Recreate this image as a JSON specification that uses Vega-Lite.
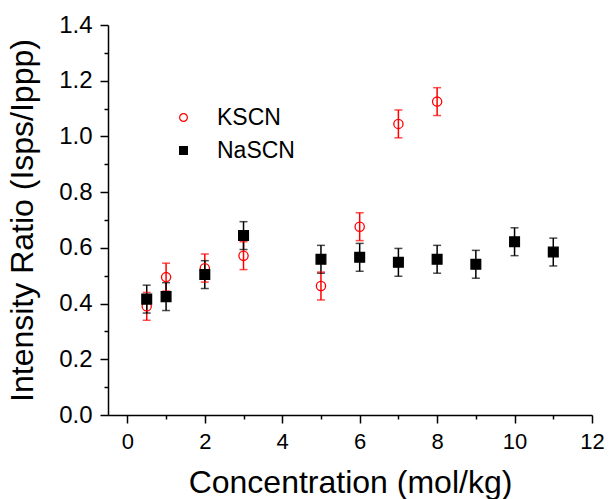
{
  "$schema": "https://vega.github.io/schema/vega-lite/v6.json",
  "autosize": "none",
  "width": 484,
  "height": 390,
  "padding": {"left": 108, "top": 25, "right": 17, "bottom": 84},
  "background": "white",
  "config": {
    "view": {"stroke": null},
    "font": "Liberation Sans",
    "axis": {
      "grid": false,
      "domainColor": "black",
      "domainWidth": 1.5,
      "tickColor": "black",
      "tickWidth": 1.5,
      "labelColor": "black",
      "titleColor": "black",
      "labelFont": "Liberation Sans",
      "titleFont": "Liberation Sans",
      "labelFontSize": 22,
      "titleFontSize": 32,
      "titleFontWeight": "normal"
    },
    "legend": {
      "labelFont": "Liberation Sans",
      "labelFontSize": 23,
      "labelColor": "black"
    }
  },
  "data": {
    "values": [
      {"conc": 0.5, "ratio": 0.39, "lo": 0.34, "hi": 0.44, "series": "KSCN"},
      {"conc": 1, "ratio": 0.495, "lo": 0.445, "hi": 0.545, "series": "KSCN"},
      {"conc": 2, "ratio": 0.527, "lo": 0.477, "hi": 0.578, "series": "KSCN"},
      {"conc": 3, "ratio": 0.572, "lo": 0.522, "hi": 0.622, "series": "KSCN"},
      {"conc": 5, "ratio": 0.463, "lo": 0.413, "hi": 0.513, "series": "KSCN"},
      {"conc": 6, "ratio": 0.676, "lo": 0.626, "hi": 0.726, "series": "KSCN"},
      {"conc": 7, "ratio": 1.045, "lo": 0.995, "hi": 1.095, "series": "KSCN"},
      {"conc": 8, "ratio": 1.125, "lo": 1.075, "hi": 1.175, "series": "KSCN"},
      {"conc": 0.5, "ratio": 0.416, "lo": 0.366, "hi": 0.466, "series": "NaSCN"},
      {"conc": 1, "ratio": 0.425, "lo": 0.375, "hi": 0.475, "series": "NaSCN"},
      {"conc": 2, "ratio": 0.504, "lo": 0.454, "hi": 0.554, "series": "NaSCN"},
      {"conc": 3, "ratio": 0.644, "lo": 0.594, "hi": 0.694, "series": "NaSCN"},
      {"conc": 5, "ratio": 0.559, "lo": 0.509, "hi": 0.609, "series": "NaSCN"},
      {"conc": 6, "ratio": 0.566, "lo": 0.516, "hi": 0.616, "series": "NaSCN"},
      {"conc": 7, "ratio": 0.548, "lo": 0.498, "hi": 0.598, "series": "NaSCN"},
      {"conc": 8, "ratio": 0.559, "lo": 0.509, "hi": 0.609, "series": "NaSCN"},
      {"conc": 9, "ratio": 0.541, "lo": 0.491, "hi": 0.591, "series": "NaSCN"},
      {"conc": 10, "ratio": 0.622, "lo": 0.572, "hi": 0.672, "series": "NaSCN"},
      {"conc": 11, "ratio": 0.585, "lo": 0.535, "hi": 0.635, "series": "NaSCN"}
    ]
  },
  "encoding": {
    "x": {
      "field": "conc",
      "type": "quantitative",
      "scale": {"domain": [-0.5, 12], "nice": false, "zero": false},
      "axis": {
        "title": "Concentration (mol/kg)",
        "values": [0, 1, 2, 3, 4, 5, 6, 7, 8, 9, 10, 11, 12],
        "labelExpr": "datum.value % 2 == 0 ? datum.label : ''",
        "tickSize": {"condition": {"test": "datum.value % 2 == 0", "value": 8}, "value": 4},
        "labelFontSize": 22,
        "labelPadding": 8,
        "titlePadding": 15,
        "labelFlush": false
      }
    },
    "y": {
      "field": "lo",
      "type": "quantitative",
      "scale": {"domain": [0, 1.4], "nice": false},
      "axis": {
        "title": "Intensity Ratio (Isps/Ippp)",
        "values": [0, 0.1, 0.2, 0.3, 0.4, 0.5, 0.6, 0.7, 0.8, 0.9, 1.0, 1.1, 1.2, 1.3, 1.4],
        "labelExpr": "round(datum.value * 10) % 2 == 0 ? format(datum.value, '.1f') : ''",
        "tickSize": {"condition": {"test": "round(datum.value * 10) % 2 == 0", "value": 8}, "value": 4},
        "labelFontSize": 24,
        "labelPadding": 8,
        "titlePadding": 19,
        "labelFlush": false
      }
    }
  },
  "layer": [
    {
      "mark": {"type": "rule", "strokeWidth": 1.5},
      "encoding": {
        "y2": {"field": "hi"},
        "color": {"condition": {"test": "datum.series == 'KSCN'", "value": "#ff0000"}, "value": "#000000"}
      }
    },
    {
      "mark": {"type": "tick", "orient": "horizontal", "size": 8, "thickness": 1.5},
      "encoding": {
        "color": {"condition": {"test": "datum.series == 'KSCN'", "value": "#ff0000"}, "value": "#000000"}
      }
    },
    {
      "mark": {"type": "tick", "orient": "horizontal", "size": 8, "thickness": 1.5},
      "encoding": {
        "y": {"field": "hi", "type": "quantitative"},
        "color": {"condition": {"test": "datum.series == 'KSCN'", "value": "#ff0000"}, "value": "#000000"}
      }
    },
    {
      "mark": {"type": "point", "opacity": 1, "strokeWidth": 1.3},
      "encoding": {
        "y": {"field": "ratio", "type": "quantitative"},
        "color": {
          "field": "series",
          "type": "nominal",
          "scale": {"domain": ["KSCN", "NaSCN"], "range": ["#ff0000", "#000000"]},
          "legend": {
            "title": null,
            "orient": "none",
            "legendX": 64,
            "legendY": 81,
            "padding": 0,
            "labelOffset": 22,
            "rowPadding": 9,
            "symbolSize": 60,
            "symbolStrokeWidth": 1.2
          }
        },
        "shape": {
          "field": "series",
          "type": "nominal",
          "scale": {"domain": ["KSCN", "NaSCN"], "range": ["circle", "square"]}
        },
        "fill": {
          "field": "series",
          "type": "nominal",
          "scale": {"domain": ["KSCN", "NaSCN"], "range": ["transparent", "#000000"]}
        },
        "size": {"condition": {"test": "datum.series == 'KSCN'", "value": 85}, "value": 95}
      }
    }
  ]
}
